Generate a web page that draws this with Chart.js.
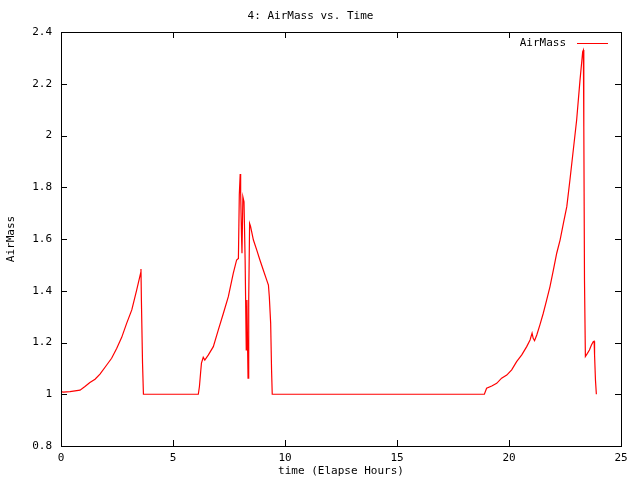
<!DOCTYPE html>
<html>
<head>
<meta charset="utf-8">
<script src="https://cdn.jsdelivr.net/npm/chart.js@4/dist/chart.umd.min.js"></script>
<style>
  body { margin: 0; background: #fff; }
  #myChart { display: block; }
</style>
</head>
<body>
<canvas id="myChart" width="640" height="480"></canvas>
<script>
// # ===============================
// # = Data
// # ===============================
var seriesLabel = 'AirMass';
var timeHours = [
	0, 0.1, 0.4, 0.85, 1.07, 1.29, 1.52, 1.74, 2.04, 2.26, 2.49, 2.71, 2.93, 3.16, 3.38, 3.56, 3.57, 3.59, 3.64, 3.68,
	6.13, 6.18, 6.23, 6.27, 6.35, 6.42, 6.58, 6.8, 7.02, 7.25, 7.47, 7.69, 7.84, 7.92, 7.96, 8.0, 8.02, 8.06, 8.08,
	8.12, 8.17, 8.22, 8.27, 8.3, 8.35, 8.38, 8.42, 8.46, 8.59, 8.74, 8.88, 9.03, 9.18, 9.26, 9.3, 9.36, 9.4, 9.43,
	18.9, 19.0, 19.23, 19.45, 19.67, 19.9, 20.12, 20.34, 20.57, 20.79, 20.94, 21.03, 21.08, 21.14, 21.24, 21.38,
	21.53, 21.68, 21.83, 21.98, 22.13, 22.28, 22.43, 22.58, 22.72, 22.87, 23.02, 23.17, 23.29, 23.32, 23.34, 23.37,
	23.41, 23.5, 23.59, 23.68, 23.76, 23.8, 23.82, 23.86, 23.9
];
var airMass = [
	1.01, 1.008, 1.01, 1.016, 1.03, 1.045, 1.058, 1.078, 1.113, 1.139, 1.178, 1.22, 1.274, 1.326, 1.403, 1.47, 1.484, 1.36, 1.12, 1.0,
	1.0, 1.03, 1.081, 1.12, 1.143, 1.132, 1.152, 1.184, 1.248, 1.313, 1.377, 1.467, 1.519, 1.525, 1.77, 1.851, 1.777, 1.609, 1.545,
	1.763, 1.744, 1.519, 1.171, 1.364, 1.062, 1.364, 1.66, 1.65, 1.596, 1.557, 1.519, 1.48, 1.442, 1.422, 1.377, 1.274, 1.094, 1.0,
	1.0, 1.023, 1.032, 1.042, 1.062, 1.074, 1.094, 1.126, 1.152, 1.184, 1.21, 1.236, 1.216, 1.207, 1.229, 1.268,
	1.313, 1.364, 1.416, 1.48, 1.545, 1.596, 1.661, 1.725, 1.828, 1.944, 2.06, 2.214, 2.324, 2.33, 2.034, 1.442,
	1.146, 1.158, 1.171, 1.19, 1.203, 1.205, 1.152, 1.055, 1.0
];
var xTicks = [0, 5, 10, 15, 20, 25];
var yTicks = [0.8, 1, 1.2, 1.4, 1.6, 1.8, 2, 2.2, 2.4];

var fontFam = '"DejaVu Sans Mono", monospace';

var points = [];
timeHours.forEach((t, i) => {
	points.push({x: t, y: airMass[i]});
});

// # ===============================
// # = Frame, mirrored ticks, legend
// # ===============================
var frame = {
	id: 'frame',
	afterDatasetsDraw: function(chart) {
		var ctx = chart.ctx;
		var a = chart.chartArea;
		var sx = chart.scales.x;
		var sy = chart.scales.y;
		ctx.save();
		ctx.strokeStyle = '#000';
		ctx.lineWidth = 1;
		ctx.strokeRect(Math.round(a.left) + 0.5, Math.round(a.top) + 0.5,
			Math.round(a.right - a.left), Math.round(a.bottom - a.top));
		ctx.beginPath();
		xTicks.forEach(v => {
			var px = Math.round(sx.getPixelForValue(v)) + 0.5;
			ctx.moveTo(px, a.bottom); ctx.lineTo(px, a.bottom - 6);
			ctx.moveTo(px, a.top); ctx.lineTo(px, a.top + 6);
		});
		yTicks.forEach(v => {
			var py = Math.round(sy.getPixelForValue(v)) + 0.5;
			ctx.moveTo(a.left, py); ctx.lineTo(a.left + 6, py);
			ctx.moveTo(a.right, py); ctx.lineTo(a.right - 6, py);
		});
		ctx.stroke();

		// legend, top right
		ctx.font = '11px ' + fontFam;
		ctx.fillStyle = '#000';
		ctx.textAlign = 'right';
		ctx.textBaseline = 'middle';
		ctx.fillText(seriesLabel, a.right - 55, a.top + 11);
		ctx.strokeStyle = 'rgb(255,0,0)';
		ctx.beginPath();
		ctx.moveTo(a.right - 44, a.top + 11.5);
		ctx.lineTo(a.right - 13, a.top + 11.5);
		ctx.stroke();
		ctx.restore();
	}
};

var ctx = document.getElementById('myChart');
new Chart(ctx, {
	type: 'scatter',
	data: {
		datasets: [{
			label: seriesLabel,
			data: points,
			showLine: true,
			borderColor: 'rgb(255,0,0)',
			backgroundColor: 'rgb(255,0,0)',
			borderWidth: 1.2,
			pointRadius: 0,
			tension: 0
		}]
	},
	options: {
		responsive: false,
		animation: false,
		layout: { padding: { left: 0, right: 19, top: 0, bottom: 0 } },
		plugins: {
			legend: { display: false },
			tooltip: { enabled: false },
			title: {
				display: true,
				text: '4: AirMass vs. Time',
				color: '#000',
				font: { family: fontFam, size: 11, weight: 'normal' },
				padding: { top: 10, bottom: 8.8 }
			}
		},
		scales: {
			x: {
				type: 'linear',
				min: 0,
				max: 25,
				afterFit: function(s) { s.height = 34; },
				afterBuildTicks: function(s) { s.ticks = xTicks.map(v => ({value: v})); },
				grid: { display: false, drawTicks: false },
				border: { display: false },
				ticks: { color: '#000', padding: 6, maxRotation: 0, font: { family: fontFam, size: 11 },
					callback: function(v) { return String(v); } },
				title: {
					display: true,
					text: 'time (Elapse Hours)',
					color: '#000',
					padding: { top: 0, bottom: 2 },
					font: { family: fontFam, size: 11 }
				}
			},
			y: {
				type: 'linear',
				min: 0.8,
				max: 2.4,
				afterFit: function(s) { s.width = 61; },
				afterBuildTicks: function(s) { s.ticks = yTicks.map(v => ({value: v})); },
				grid: { display: false, drawTicks: false },
				border: { display: false },
				ticks: { color: '#000', padding: 9, font: { family: fontFam, size: 11 },
					callback: function(v) { return String(Math.round(v * 10) / 10); } },
				title: {
					display: true,
					text: 'AirMass',
					color: '#000',
					padding: { top: 5, bottom: 0 },
					font: { family: fontFam, size: 11 }
				}
			}
		}
	},
	plugins: [frame]
});
</script>
</body>
</html>
